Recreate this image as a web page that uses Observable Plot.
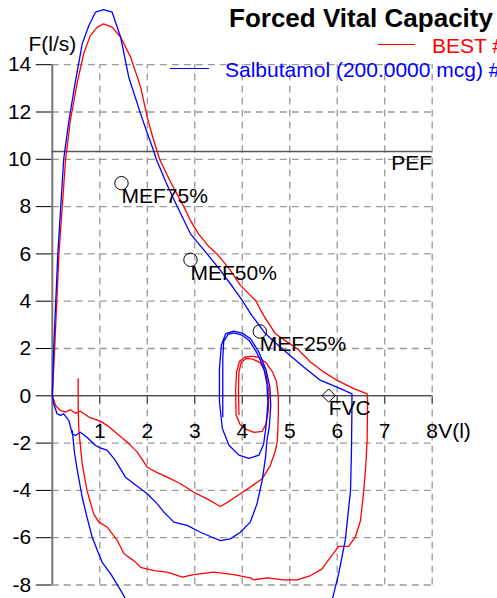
<!DOCTYPE html>
<html><head><meta charset="utf-8">
<script src="https://cdn.jsdelivr.net/npm/d3@7"></script>
<script src="https://cdn.jsdelivr.net/npm/@observablehq/plot@0.6"></script>
<style>
body{margin:0;background:#fff;}
#wrap{position:relative;width:497px;height:598px;overflow:hidden;font-family:"Liberation Sans",Arial,sans-serif;}
.t{position:absolute;white-space:nowrap;line-height:1;}
.ln{position:absolute;height:0;border-top:1.3px solid;}
</style></head><body>
<div id="wrap">
  <div id="chart"></div>
  <div class="t" style="left:229px;top:4.5px;font-size:26px;font-weight:bold;color:#000;">Forced Vital Capacity</div>
  <div class="ln" style="left:378px;top:44px;width:37px;border-color:#ff0000;"></div>
  <div class="t" style="left:432px;top:34.5px;font-size:21px;color:#ff0000;">BEST #1</div>
  <div class="ln" style="left:170px;top:68px;width:39px;border-color:#0000ff;"></div>
  <div class="t" style="left:225px;top:58.5px;font-size:21px;color:#0000ff;">Salbutamol (200.0000 mcg) #1</div>
</div>
<script>
// Tick values
const yTicks = [-8, -6, -4, -2, 0, 2, 4, 6, 8, 10, 12, 14];
const yGrid = [-8, -6, -4, -2, 2, 4, 6, 8, 10, 12, 14];
const xGrid = [1, 2, 3, 4, 5, 6, 7, 8];
const xTickLabels = ["1", "2", "3", "4", "5", "6", "7", "8"];
const pefFlow = 10.33;

// BEST curve: [volume (l), flow (l/s)] in drawing order
const bestTidal = [
 [3.93,-0.80],[3.92,0.20],[3.93,1.00],[3.98,1.42],[4.08,1.58],[4.22,1.55],[4.38,1.40],[4.50,0.95],[4.56,0.20],
 [4.55,-0.60],[4.50,-1.20],[4.42,-1.50],[4.25,-1.55],[4.08,-1.42],[3.95,-1.20],[3.87,-0.80],[3.86,0.20],
 [3.88,1.00],[3.94,1.45],[4.05,1.63],[4.20,1.68],[4.35,1.62],[4.50,1.40],[4.64,1.00],[4.72,0.60],[4.76,0.00],
 [4.76,-0.80],[4.75,-1.40],[4.74,-1.89],[4.70,-2.31],[4.59,-2.95],[4.42,-3.51],[4.17,-3.86],[3.96,-4.14],
 [3.75,-4.43],[3.54,-4.68],[3.26,-4.36],[2.98,-4.08],[2.70,-3.72],[2.42,-3.44],[2.21,-3.25],[2.00,-3.02],
 [1.79,-2.38],[1.58,-1.96],[1.37,-1.61],[1.16,-1.26],[1.01,-1.07],[0.77,-0.90],[0.59,-0.65],[0.49,-0.74],
 [0.38,-0.59],[0.28,-0.69],[0.17,-0.62],[0.07,-0.41],[0,0]
];
const bestExp = [
 [0,0],[0.05,2],[0.14,6],[0.28,10],[0.38,11.64],[0.52,13.19],[0.66,14.46],[0.80,15.23],[0.95,15.59],[1.08,15.73],
 [1.26,15.59],[1.44,15.16],[1.65,14.32],[1.86,13.05],[2.0,11.78],[2.12,10.9],[2.21,10.33],[2.26,10.0],[2.5,9.0],
 [2.77,8.0],[2.91,7.41],[3.08,6.85],[3.3,6.3],[3.47,6.0],[3.75,5.3],[3.95,4.7],[4.14,4.31],[4.28,4.03],
 [4.45,3.40],[4.70,2.62],[4.95,2.27],[5.16,1.99],[5.44,1.42],[5.72,1.0],[6.0,0.65],[6.35,0.30],[6.63,0.08]
];
const bestInsp = [
 [6.63,0.08],[6.64,-0.2],[6.63,-1.88],[6.60,-3.0],[6.56,-4.0],[6.49,-5.27],[6.38,-5.98],[6.24,-6.37],[6.03,-6.37],
 [5.86,-6.82],[5.68,-7.32],[5.44,-7.60],[5.16,-7.78],[4.87,-7.78],[4.52,-7.70],[4.24,-7.78],[4.17,-7.70],
 [3.82,-7.56],[3.40,-7.46],[2.98,-7.56],[2.74,-7.67],[2.42,-7.46],[2.14,-7.39],[1.86,-7.25],[1.72,-6.98],
 [1.51,-6.68],[1.37,-6.12],[1.16,-5.56],[0.98,-5.34],[0.87,-4.99],[0.73,-4.0],[0.63,-2.88],[0.56,-1.47],
 [0.545,-0.5],[0.545,0.72]
];

// Salbutamol curve
const salbTidal = [
 [3.59,-0.89],[3.59,0.5],[3.59,1.6],[3.61,2.3],[3.70,2.60],[3.82,2.66],[3.98,2.58],[4.14,2.35],[4.30,1.85],
 [4.45,1.20],[4.52,0.50],[4.54,-0.30],[4.50,-1.30],[4.45,-2.05],[4.35,-2.51],[4.14,-2.65],[3.93,-2.51],
 [3.72,-2.09],[3.58,-1.38],[3.52,-0.25],[3.52,1.15],[3.56,2.14],[3.65,2.63],[3.82,2.73],[4.00,2.65],
 [4.18,2.40],[4.35,1.85],[4.50,1.10],[4.58,0.40],[4.60,-0.40],[4.57,-1.30],[4.52,-1.89],[4.49,-2.60],
 [4.42,-3.58],[4.31,-4.57],[4.17,-5.34],[3.96,-5.77],[3.75,-6.05],[3.54,-6.12],[3.33,-5.95],[3.12,-5.77],
 [2.84,-5.48],[2.56,-5.34],[2.35,-4.92],[2.21,-4.57],[2.00,-4.14],[1.72,-3.72],[1.54,-3.44],[1.33,-2.74],
 [1.16,-2.31],[1.01,-2.20],[0.91,-2.10],[0.73,-1.75],[0.59,-1.54],[0.49,-1.68],[0.42,-1.61],[0.35,-1.05],
 [0.24,-0.76],[0.17,-0.83],[0.10,-0.76],[0.03,-0.34],[0,0]
];
const salbExp = [
 [0,0],[0.03,2],[0.116,6],[0.24,10],[0.35,11.64],[0.49,13.33],[0.63,14.88],[0.77,15.66],[0.91,16.22],[1.08,16.33],
 [1.26,16.22],[1.44,15.16],[1.61,13.47],[1.86,11.92],[2.0,11.1],[2.14,10.33],[2.19,10.0],[2.4,9.0],[2.63,8.0],
 [2.91,6.85],[3.26,6.0],[3.54,5.30],[3.8,4.6],[4.0,4.03],[4.2,3.4],[4.49,2.62],[4.84,1.99],[5.30,1.21],
 [5.65,0.65],[6.07,0.30],[6.31,0.08]
];
const salbInsp = [
 [6.31,0.08],[6.31,-0.5],[6.30,-2.3],[6.28,-4.0],[6.17,-6.1],[6.03,-7.53],[5.91,-8.5],[5.85,-9.0],[4.0,-9.6],
 [2.0,-9.4],[1.62,-8.9],[1.54,-8.58],[1.40,-8.09],[1.23,-7.53],[1.05,-7.04],[0.95,-6.54],[0.84,-5.98],
 [0.73,-5.13],[0.63,-4.29],[0.54,-3.30],[0.47,-2.45],[0.42,-1.47]
];

// Markers
const mefNames = ["MEF75%", "MEF50%", "MEF25%"];
const mefVol = [1.457, 2.91, 4.37];
const mefFlow = [8.99, 5.75, 2.72];
const fvcPoint = {name: "FVC", v: 5.82, f: 0.01};

const best = [...bestTidal, ...bestExp, ...bestInsp];
const salb = [...salbTidal, ...salbExp, ...salbInsp];
const mef = mefNames.map((n, i) => ({name: n, v: mefVol[i], f: mefFlow[i]}));
const xLab = xGrid.map((v, i) => ({v, t: xTickLabels[i]}));

const font = '"Liberation Sans", Arial, sans-serif';
const chart = Plot.plot({
  width: 497, height: 598,
  marginLeft: 51.8, marginRight: 65.3, marginTop: 64.2, marginBottom: 13.5,
  x: {domain: [0, 8], axis: null},
  y: {domain: [-8, 14], ticks: yTicks, tickSize: 16, tickPadding: 5, tickFormat: d => String(d), label: null},
  style: {fontFamily: font, fontSize: "21px", background: "white", color: "black", overflow: "visible"},
  marks: [
    Plot.ruleY(yGrid, {x1: 0, x2: 8, stroke: "#999", strokeWidth: 1.3, strokeDasharray: "7,5"}),
    Plot.ruleX(xGrid, {y1: -8, y2: 14, stroke: "#999", strokeWidth: 1.3, strokeDasharray: "7,5"}),
    Plot.ruleX([0], {y1: -8, y2: 14, stroke: "#777", strokeWidth: 2}),
    Plot.ruleY([0], {x1: 0, x2: 8, stroke: "black", strokeWidth: 1}),
    Plot.ruleX(xGrid, {y1: 0, y2: 0, insetBottom: -8, stroke: "#333"}),
    Plot.ruleY([pefFlow], {x1: 0, x2: 8, stroke: "#555", strokeWidth: 1.5}),
    Plot.text(["PEF"], {x: 8, y: pefFlow, dy: 12, textAnchor: "end", fill: "black"}),
    Plot.line(best, {stroke: "#ff0000", strokeWidth: 1.3}),
    Plot.line(salb, {stroke: "#0000ff", strokeWidth: 1.3}),
    Plot.dot(mef, {x: "v", y: "f", r: 6.7, stroke: "black", fill: "none", strokeWidth: 1}),
    Plot.dot([fvcPoint], {x: "v", y: "f", r: 6, symbol: "diamond2", stroke: "black", fill: "none", strokeWidth: 1}),
    Plot.text([...mef, fvcPoint], {x: "v", y: "f", text: "name", dy: 13, textAnchor: "start", fill: "black"}),
    Plot.text(xLab, {x: "v", y: 0, text: "t", dy: 35, fill: "black"}),
    Plot.text(["V(l)"], {x: 8, y: 0, dx: 6, dy: 35, textAnchor: "start", fill: "black"}),
    Plot.text(["F(l/s)"], {x: 0, y: 14, dy: -20, fill: "black"})
  ]
});
document.getElementById("chart").appendChild(chart);
</script>
</body></html>
